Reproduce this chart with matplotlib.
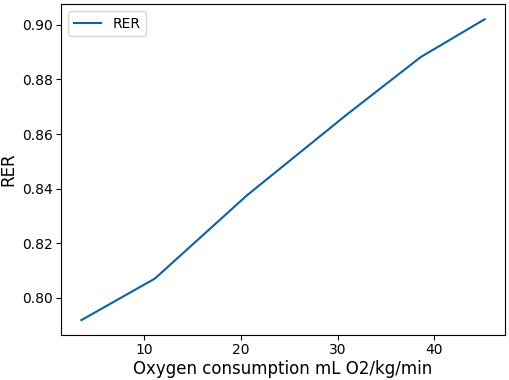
import matplotlib
matplotlib.use("Agg")
import matplotlib.pyplot as plt

# values
oxygen_consumption = [3.5, 11.1, 20.6, 30.9, 38.6, 45.2]
rer = [0.7919, 0.8071, 0.8375, 0.8670, 0.8882, 0.9020]

fig, ax = plt.subplots(figsize=(5.1, 3.8), dpi=100)
ax.plot(oxygen_consumption, rer, color="#0a62aa", lw=1.5, label="RER")
ax.set_xlabel("Oxygen consumption mL O2/kg/min", fontsize=12, labelpad=2)
ax.set_ylabel("RER", fontsize=12, labelpad=3)
ax.tick_params(labelsize=10, pad=2.5)
ax.legend(loc="upper left", fontsize=10)
fig.subplots_adjust(left=0.12, right=0.99, top=0.989, bottom=0.118)
fig.savefig("out.png", dpi=100)
plt.close(fig)
